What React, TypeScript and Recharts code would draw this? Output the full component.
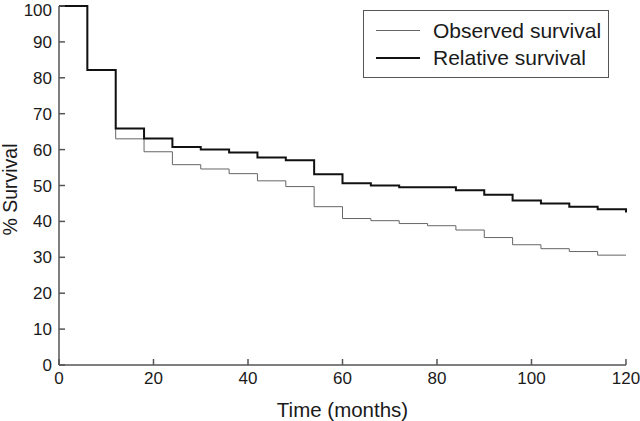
import React from 'react';
import { LineChart, Line, XAxis, YAxis, Legend } from 'recharts';

const months = [0, 6, 12, 18, 24, 30, 36, 42, 48, 54, 60, 66, 72, 78, 84, 90, 96, 102, 108, 114, 120];
const observedSurvival = [100, 82.2, 63.0, 59.4, 55.8, 54.6, 53.3, 51.3, 49.7, 44.1, 40.8, 40.2, 39.4, 38.8, 37.6, 35.5, 33.5, 32.4, 31.6, 30.6, 30.6];
const relativeSurvival = [100, 82.2, 65.9, 63.1, 60.7, 60.0, 59.2, 57.8, 57.0, 53.1, 50.6, 50.0, 49.5, 49.5, 48.7, 47.4, 45.8, 45.0, 44.1, 43.4, 42.5];
const xTicks = [0, 20, 40, 60, 80, 100, 120];
const yTicks = [0, 10, 20, 30, 40, 50, 60, 70, 80, 90, 100];
const seriesNames = ['Observed survival', 'Relative survival'];

const data = months.map((m, i) => ({ month: m, observed: observedSurvival[i], relative: relativeSurvival[i] }));

const FONT = '"Liberation Sans", Arial, sans-serif';
const AXIS = '#555';
const TEXT = '#1a1a1a';

const YLabel = (props: any) => {
  const vb = props.viewBox || {};
  const cx = 10;
  const cy = vb.y + vb.height / 2 + 4;
  return (
    <text x={cx} y={cy} transform={`rotate(-90 ${cx} ${cy})`} textAnchor="middle" dominantBaseline="central" fontSize={19.5} fontFamily={FONT} fill={TEXT}>
      % Survival
    </text>
  );
};

const XLabel = (props: any) => {
  const vb = props.viewBox || {};
  const cx = vb.x + vb.width / 2;
  return (
    <text x={cx} y={409} textAnchor="middle" dominantBaseline="central" fontSize={20.5} fontFamily={FONT} fill={TEXT}>
      Time (months)
    </text>
  );
};

const LegendBox = () => (
  <div style={{ width: 246, height: 68, border: `1.5px solid ${AXIS}`, boxSizing: 'border-box', fontFamily: FONT, fontSize: 21, color: TEXT, background: '#fff', paddingTop: 6 }}>
    {seriesNames.map((n, i) => (
      <div key={n} style={{ display: 'flex', alignItems: 'center', height: 27 }}>
        <div style={{ marginLeft: 12, width: 44, height: 0, borderTop: i === 0 ? '1px solid #666' : '2px solid #111' }} />
        <span style={{ marginLeft: 13, lineHeight: '27px' }}>{n}</span>
      </div>
    ))}
  </div>
);

export default function App() {
  return (
    <div style={{ position: 'absolute', left: 0, top: 0, width: 640, height: 421, background: '#fff' }}>
      <LineChart width={640} height={421} data={data} margin={{ top: 6, right: 14, bottom: 0, left: 0 }}>
        <XAxis
          dataKey="month"
          type="number"
          domain={[0, 120]}
          ticks={xTicks}
          height={56}
          tickSize={-6}
          tickMargin={13}
          axisLine={{ stroke: AXIS, strokeWidth: 1.5 }}
          tickLine={{ stroke: AXIS, strokeWidth: 1.5 }}
          tick={{ fontSize: 17, fontFamily: FONT, fill: TEXT }}
          label={<XLabel />}
        />
        <YAxis
          type="number"
          domain={[0, 100]}
          ticks={yTicks}
          width={59}
          tickSize={-6}
          tickMargin={13}
          axisLine={{ stroke: AXIS, strokeWidth: 1.5 }}
          tickLine={{ stroke: AXIS, strokeWidth: 1.5 }}
          tick={{ fontSize: 17, fontFamily: FONT, fill: TEXT }}
          label={<YLabel />}
        />
        <Legend layout="vertical" align="center" verticalAlign="middle" wrapperStyle={{ top: 10, left: 363, width: 246, height: 68 }} content={<LegendBox />} />
        <Line type="stepAfter" dataKey="observed" name={seriesNames[0]} stroke="#666" strokeWidth={1} dot={false} isAnimationActive={false} />
        <Line type="stepAfter" dataKey="relative" name={seriesNames[1]} stroke="#111" strokeWidth={2} dot={false} isAnimationActive={false} />
      </LineChart>
    </div>
  );
}
